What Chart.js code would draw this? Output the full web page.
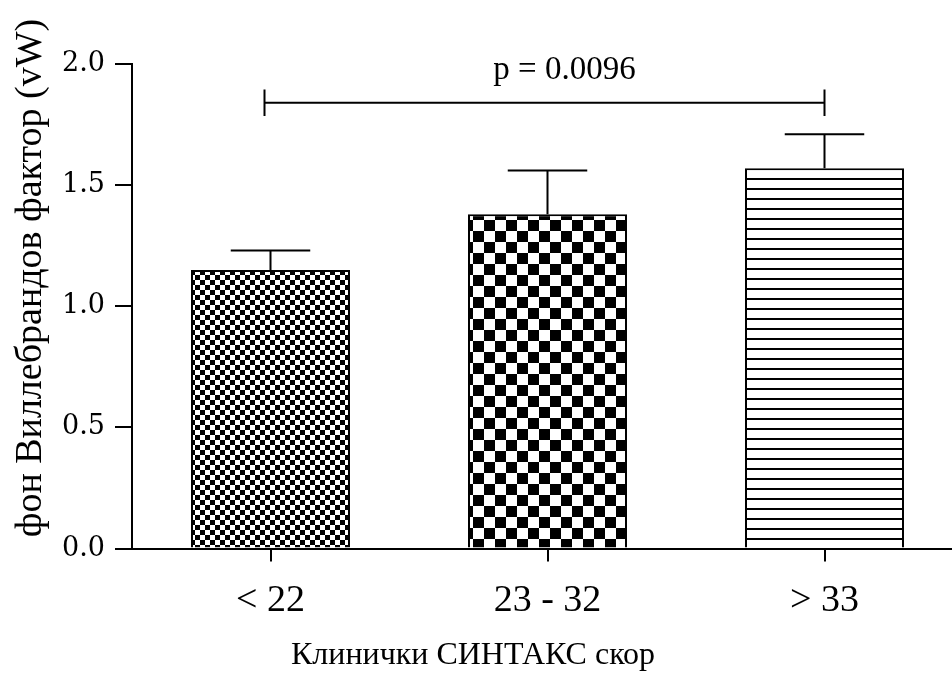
<!DOCTYPE html>
<html>
<head>
<meta charset="utf-8">
<script src="https://cdn.jsdelivr.net/npm/chart.js@4.4.1/dist/chart.umd.min.js"></script>
<style>
  html, body { margin: 0; padding: 0; background: #fff; overflow: hidden; }
  #wrap { width: 963px; height: 677px; }
</style>
</head>
<body>
<div id="wrap"><canvas id="chart" width="963" height="677"></canvas></div>
<script>
// values
const categories = ['< 22', '23 - 32', '> 33']
const means = [1.15, 1.38, 1.57]
const errTops = [1.23, 1.56, 1.71]
const yTicks = [0.0, 0.5, 1.0, 1.5, 2.0]
const pLabel = 'p = 0.0096'
const bracketValue = 1.84
const bracketTickLow = 1.785
const bracketTickHigh = 1.895
const xTitle = 'Клинички СИНТАКС скор'
const yTitle = 'фон Виллебрандов фактор (vW)'

function makePattern (kind) {
  const c = document.createElement('canvas')
  const g = c.getContext('2d')
  if (kind === 'fine' || kind === 'coarse') {
    const s = kind === 'fine' ? 5 : 11
    c.width = c.height = s * 2
    g.fillStyle = '#fff'
    g.fillRect(0, 0, s * 2, s * 2)
    g.fillStyle = '#000'
    g.fillRect(0, 0, s, s)
    g.fillRect(s, s, s, s)
  } else {
    c.width = 10
    c.height = 10
    g.fillStyle = '#fff'
    g.fillRect(0, 0, 10, 10)
    g.fillStyle = '#000'
    g.fillRect(0, 8, 10, 2)
  }
  return g.createPattern(c, 'repeat')
}

const fills = [makePattern('fine'), makePattern('coarse'), makePattern('lines')]

const annotations = {
  id: 'annotations',
  afterDatasetsDraw (chart) {
    const ctx = chart.ctx
    const x = chart.scales.x
    const y = chart.scales.y
    ctx.save()
    ctx.strokeStyle = '#000'
    ctx.lineWidth = 2
    // error bars
    means.forEach((m, i) => {
      const cx = x.getPixelForValue(i)
      const bar = chart.getDatasetMeta(0).data[i]
      const half = bar.width / 4
      ctx.beginPath()
      ctx.moveTo(cx, y.getPixelForValue(m))
      ctx.lineTo(cx, y.getPixelForValue(errTops[i]))
      ctx.moveTo(cx - half, y.getPixelForValue(errTops[i]))
      ctx.lineTo(cx + half, y.getPixelForValue(errTops[i]))
      ctx.stroke()
    })
    // significance bracket
    const x0 = x.getPixelForValue(0) - 6
    const x1 = x.getPixelForValue(2)
    const yb = y.getPixelForValue(bracketValue)
    ctx.beginPath()
    ctx.moveTo(x0, yb)
    ctx.lineTo(x1, yb)
    ctx.moveTo(x0, y.getPixelForValue(bracketTickLow))
    ctx.lineTo(x0, y.getPixelForValue(bracketTickHigh))
    ctx.moveTo(x1, y.getPixelForValue(bracketTickLow))
    ctx.lineTo(x1, y.getPixelForValue(bracketTickHigh))
    ctx.stroke()
    ctx.fillStyle = '#000'
    ctx.font = '33px "Liberation Serif"'
    ctx.textAlign = 'center'
    ctx.textBaseline = 'alphabetic'
    ctx.fillText(pLabel, (x0 + x1) / 2 + 20, yb - 24)

    // axis titles
    ctx.textBaseline = 'middle'
    ctx.font = '32px "Liberation Serif"'
    ctx.fillText(xTitle, 473, 656)
    ctx.translate(31, 278)
    ctx.rotate(-Math.PI / 2)
    ctx.font = '38px "Liberation Serif"'
    ctx.fillText(yTitle, 0, 0)
    ctx.restore()
  }
}

const ctx = document.getElementById('chart')
new Chart(ctx, {
  type: 'bar',
  data: {
    labels: categories,
    datasets: [{
      data: means,
      backgroundColor: fills,
      borderColor: '#000',
      borderWidth: 2,
      barPercentage: 0.574,
      categoryPercentage: 1
    }]
  },
  options: {
    responsive: false,
    animation: false,
    events: [],
    layout: { padding: { top: 64, right: 0, bottom: 0, left: 0 } },
    plugins: { legend: { display: false }, tooltip: { enabled: false } },
    scales: {
      x: {
        offset: true,
        grid: { offset: false, drawOnChartArea: false, color: '#000', lineWidth: 2, tickLength: 13 },
        border: { color: '#000', width: 2 },
        ticks: { color: '#000', font: { family: 'Liberation Serif', size: 38 }, padding: 17 },
        afterFit (scale) { scale.height = 128.5 }
      },
      y: {
        min: 0,
        max: 2,
        afterBuildTicks (scale) { scale.ticks = yTicks.map(v => ({ value: v })) },
        grid: { drawOnChartArea: false, color: '#000', lineWidth: 2, tickLength: 17 },
        border: { color: '#000', width: 2 },
        ticks: {
          color: '#000',
          font: { family: 'DejaVu Serif', size: 27 },
          padding: 10,
          callback: v => v.toFixed(1)
        },
        afterFit (scale) { scale.width = 132 }
      }
    }
  },
  plugins: [annotations]
})
</script>
</body>
</html>
